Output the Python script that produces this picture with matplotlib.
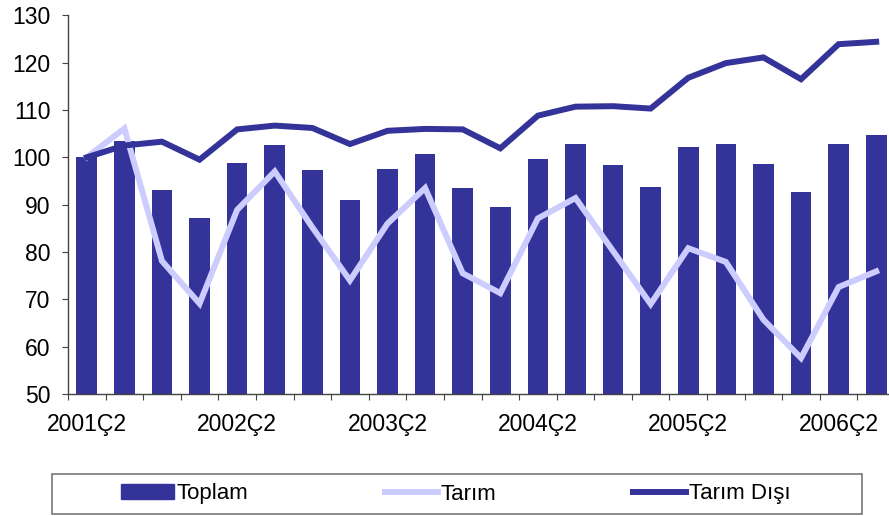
import matplotlib
matplotlib.use("Agg")
import matplotlib.pyplot as plt
from matplotlib.patches import Rectangle, Patch
from matplotlib.lines import Line2D
import numpy as np

plt.rcParams['font.family'] = ['Liberation Sans', 'DejaVu Sans']

quarters = []
for y in range(2001, 2007):
    for q in range(1, 5):
        quarters.append(f"{y}Ç{q}")
categories = quarters[1:23]  # 2001Ç2 .. 2006Ç3

toplam = [100, 103.5, 93.1, 87.2, 98.8, 102.6, 97.3, 91.0, 97.6, 100.7, 93.5,
          89.5, 99.7, 102.8, 98.4, 93.8, 102.2, 102.8, 98.6, 92.7, 102.8, 104.7]
tarim = [100, 106.1, 78.1, 69.1, 88.9, 97.0, 85.2, 74.0, 86.0, 93.5, 75.5,
         71.3, 87.1, 91.4, 80.2, 69.0, 80.8, 77.9, 65.7, 57.6, 72.6, 75.9]
tarim_disi = [100, 102.5, 103.3, 99.5, 105.9, 106.7, 106.2, 102.8, 105.6, 106.0, 105.9,
              101.9, 108.8, 110.7, 110.8, 110.3, 116.8, 119.9, 121.1, 116.5, 123.9, 124.4]

dark = '#333399'
light = '#CCCCFF'

W, H = 889, 516
fig = plt.figure(figsize=(W / 100, H / 100), dpi=100)
ax = fig.add_axes([68 / W, (H - 394) / H, 827 / W, 378.7 / H])

x = np.arange(len(categories))
ax.bar(x, toplam, width=0.55, color=dark, zorder=2)
ax.plot(x, tarim, color=light, lw=4.3, zorder=3, solid_joinstyle='miter')
ax.plot(x, tarim_disi, color=dark, lw=4.3, zorder=4, solid_joinstyle='miter')

ax.set_xlim(-0.5, len(categories) - 0.5)
ax.set_ylim(50, 130)
ax.set_yticks(np.arange(50, 131, 10))
ax.set_xticks(np.arange(-0.5, len(categories), 1.0))
ax.set_xticklabels([])
ax.set_xticks(x[::4], minor=True)
ax.set_xticklabels([categories[i] for i in x[::4]], minor=True)
ax.tick_params(axis='x', which='minor', length=0, pad=14, labelsize=16.5)
ax.tick_params(axis='x', which='major', length=4.5, direction='out', color='#444444')
ax.tick_params(axis='y', length=4.5, direction='out', color='#444444', labelsize=16.5, pad=8)
for s in ['top', 'right']:
    ax.spines[s].set_visible(False)
for s in ['left', 'bottom']:
    ax.spines[s].set_color('#444444')
    ax.spines[s].set_linewidth(1.0)

# legend box
fig.patches.append(Rectangle((52 / W, (H - 514) / H), 810 / W, 40 / H,
                             transform=fig.transFigure, fill=False,
                             edgecolor='#777777', lw=1.2))
handles = [Patch(facecolor=dark, edgecolor=dark),
           Line2D([], [], color=light, lw=4.3),
           Line2D([], [], color=dark, lw=4.3)]
fig.legend(handles, ['Toplam', 'Tarım', 'Tarım Dışı'], ncol=3,
           loc='center', bbox_to_anchor=(456 / W, (H - 494) / H),
           frameon=False, fontsize=16, handlelength=2.35, handletextpad=0.15,
           columnspacing=6.15, handleheight=0.65, borderpad=0)

fig.savefig('out.png', dpi=100)
